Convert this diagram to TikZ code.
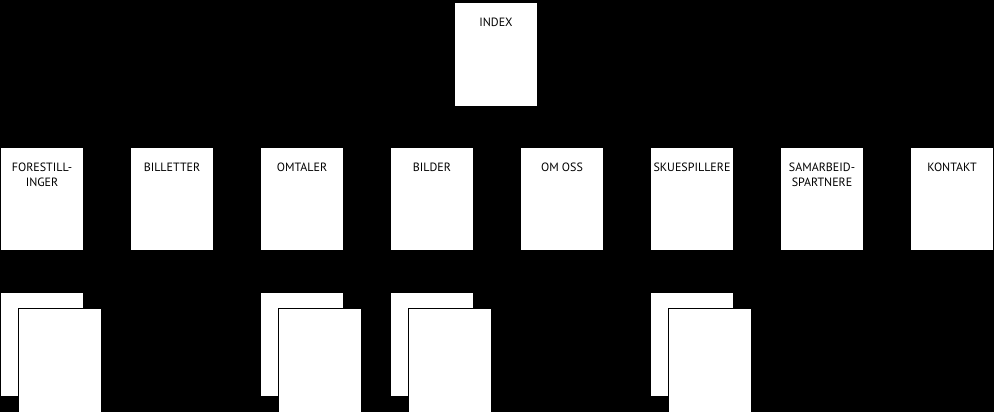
\documentclass[tikz,border=0pt]{standalone}
\usepackage{fontspec}
\setmainfont{PT Sans}

\begin{document}
\begin{tikzpicture}[x=1pt,y=1pt,
  page/.style={fill=white,inner sep=0pt,outer sep=0pt,anchor=north west,
    minimum width=82pt,minimum height=102pt},
  title/.style={anchor=north,yshift=-14.5pt,inner sep=0pt,align=center,
    font=\fontsize{12}{15}\selectfont}]

% svart bakgrunn
\useasboundingbox (0,0) rectangle (994,-412);
\fill[black] (0,0) rectangle (994,-412);

% forside
\node[page,minimum height=103pt,label={[title]north:INDEX}] (index) at (455,-3) {};

% undersider
\foreach \nm/\txt [count=\i from 0] in {forest/{FORESTILL-\\INGER},billett/BILLETTER,
    omtale/OMTALER,bilde/BILDER,omoss/OM OSS,skuesp/SKUESPILLERE,
    samarb/{SAMARBEID-\\SPARTNERE},kontakt/KONTAKT}{
  \node[page,label={[title]north:\txt}] (\nm) at (1+130*\i,-148) {};
}

% stabler med flere sider
\foreach \nm/\i in {forest/0,omtale/2,bilde/3,skuesp/5}{
  \node[page,minimum height=103pt] (\nm-back) at (1+130*\i,-293) {};
  \node[page,draw=black,line width=1pt,minimum width=83pt,minimum height=104pt]
    (\nm-front) at (18+130*\i,-308) {};
}

\end{tikzpicture}
\end{document}
